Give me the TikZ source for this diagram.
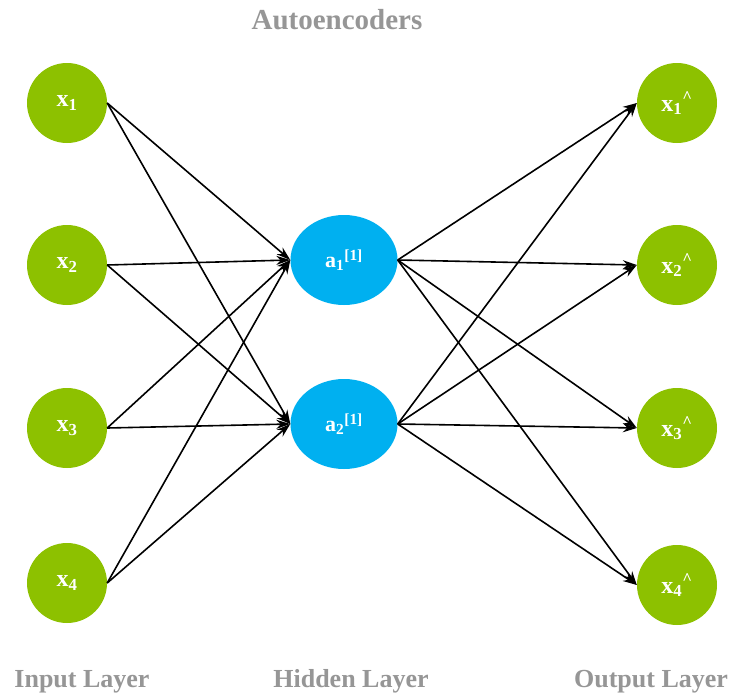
\documentclass[tikz,border=0pt]{standalone}
\usepackage{fontspec}
\setmainfont{Liberation Serif}
\usetikzlibrary{arrows.meta,shapes.geometric}
\definecolor{nodegreen}{RGB}{141,193,0}
\definecolor{nodeblue}{RGB}{0,176,240}
\definecolor{labelgray}{RGB}{150,150,150}
\tikzset{
  unit/.style={circle, fill=nodegreen, minimum size=80pt, inner sep=0pt,
    text=white, font=\fontsize{24}{28}\selectfont\bfseries},
  hid/.style={ellipse, fill=nodeblue, minimum width=107pt, minimum height=90pt,
    inner sep=0pt, text=white, font=\fontsize{22}{26}\selectfont\bfseries},
  caption/.style={text=labelgray, anchor=base, inner sep=0pt,
    font=\fontsize{26}{30}\selectfont\bfseries},
  link/.style={-{Stealth[length=14pt,width=9pt]}, line width=1.6pt, black}
}
\begin{document}
\begin{tikzpicture}[x=1pt, y=-1pt]
  \useasboundingbox (0,0) rectangle (730,693);
  \fill[white] (0,0) rectangle (730,693);

  % input layer
  \node[unit] (i1) at (67,103) {x\textsubscript{1}};
  \node[unit] (i2) at (67,265) {x\textsubscript{2}};
  \node[unit] (i3) at (67,428) {x\textsubscript{3}};
  \node[unit] (i4) at (67,583) {x\textsubscript{4}};

  % hidden layer
  \node[hid] (h1) at (344,260) {a\textsubscript{1}\textsuperscript{[1]}};
  \node[hid] (h2) at (344,424) {a\textsubscript{2}\textsuperscript{[1]}};

  % output layer
  \node[unit] (o1) at (677,103) {x\textsubscript{1}\textsuperscript{\textasciicircum}};
  \node[unit] (o2) at (677,265) {x\textsubscript{2}\textsuperscript{\textasciicircum}};
  \node[unit] (o3) at (677,428) {x\textsubscript{3}\textsuperscript{\textasciicircum}};
  \node[unit] (o4) at (677,585) {x\textsubscript{4}\textsuperscript{\textasciicircum}};

  % fully connected edges
  \foreach \i in {1,2,3,4} {
    \foreach \h in {1,2} {
      \draw[link] (i\i.east) -- (h\h.west);
      \draw[link] (h\h.east) -- (o\i.west);
    }
  }

  % captions
  \node[caption, font=\fontsize{29}{33}\selectfont\bfseries] (title) at (337,30) {Autoencoders};
  \node[caption] (inlab) at (82,687) {Input Layer};
  \node[caption] (hidlab) at (351,687) {Hidden Layer};
  \node[caption] (outlab) at (651,687) {Output Layer};
\end{tikzpicture}
\end{document}
